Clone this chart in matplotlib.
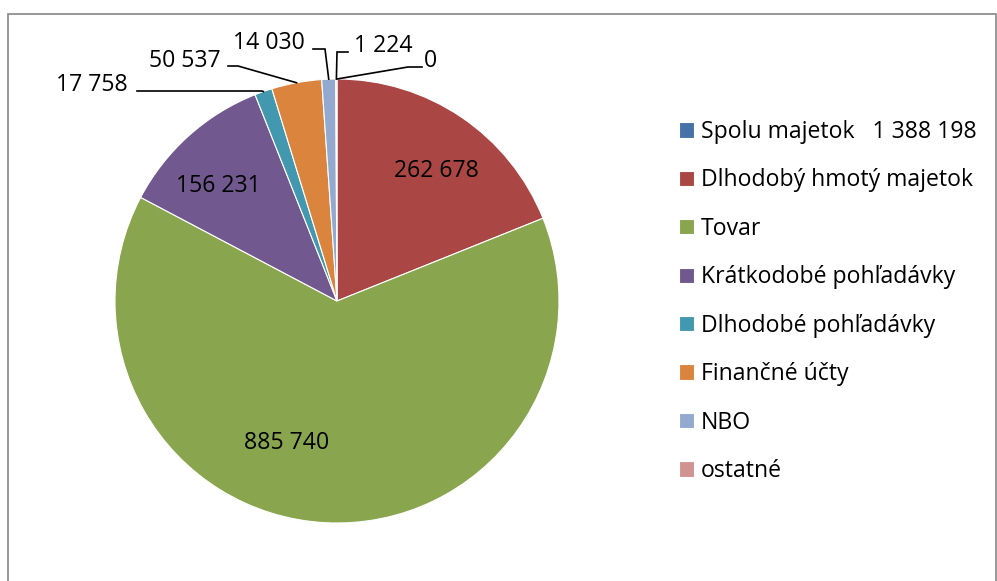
import numpy as np
import matplotlib.pyplot as plt
from matplotlib.patches import Rectangle

plt.rcParams['font.family'] = ['Open Sans', 'DejaVu Sans']

# data
names = ['Spolu majetok   1 388 198', 'Dlhodobý hmotý majetok', 'Tovar',
         'Krátkodobé pohľadávky', 'Dlhodobé pohľadávky', 'Finančné účty',
         'NBO', 'ostatné']
values = [0, 262678, 885740, 156231, 17758, 50537, 14030, 1224]
colors = ['#4572A7', '#AA4643', '#89A54E', '#71588F', '#4198AF', '#DB843D',
          '#93A9CF', '#D19392']

W, H = 997, 581
fig = plt.figure(figsize=(W / 100, H / 100), dpi=100)
ax = fig.add_axes([0, 0, 1, 1])
ax.set_xlim(0, W)
ax.set_ylim(0, H)
ax.set_aspect('equal')
ax.axis('off')

cx, cy, R = 337, H - 301, 222
wedges, _ = ax.pie(values, colors=colors, startangle=90, counterclock=False,
                   center=(cx, cy), radius=R,
                   wedgeprops=dict(edgecolor='white', linewidth=0.8))
ax.set_xlim(0, W)
ax.set_ylim(0, H)

fs = 16.6
fmt = lambda v: f'{v:,}'.replace(',', ' ')

# inner labels (pixel positions of baseline, y from top)
inner = {1: (436, 177), 2: (287, 449), 3: (218, 192)}
for i, (x, y) in inner.items():
    ax.text(x, H - y, fmt(values[i]), ha='center', va='baseline', fontsize=fs)

# outside labels with leader lines: text anchor (baseline), elbow point
outer = {
    4: dict(txt=(128, 91, 'right'), line=[(137, 91), (262, 91)]),
    5: dict(txt=(221, 67, 'right'), line=[(228, 66), (238, 66)]),
    6: dict(txt=(269, 49, 'center'), line=[(313, 49), (325, 49)]),
    7: dict(txt=(354, 52, 'left'), line=[(348, 52), (337, 52)]),
    0: dict(txt=(424, 67, 'left'), line=[(422, 67), (408, 67)]),
}
cum = np.cumsum([0] + values)
tot = cum[-1]
for i, d in outer.items():
    mid = (cum[i] + cum[i + 1]) / 2 / tot * 360
    a = np.deg2rad(90 - mid)
    ex, ey = cx + R * np.cos(a), cy + R * np.sin(a)
    pts = [(x, H - y) for x, y in d['line']] + [(ex, ey)]
    xs, ys = zip(*pts)
    ax.plot(xs, ys, color='black', lw=1.2, solid_joinstyle='miter')
    tx, ty, ha = d['txt']
    ax.text(tx, H - ty, fmt(values[i]), ha=ha, va='baseline', fontsize=fs)

ax.legend(wedges, names, loc='upper left', bbox_to_anchor=(679 / W, 1 - 120 / H),
          frameon=False, fontsize=fs, handlelength=0.65, handleheight=0.65,
          handletextpad=0.3, labelspacing=1.06, borderpad=0, borderaxespad=0)

fig.patches.append(Rectangle((8 / W, -0.1), (988) / W, 1.1 - 14 / H,
                             transform=fig.transFigure, fill=False,
                             edgecolor='#868686', lw=1.2))

fig.savefig('out.png', dpi=100)
